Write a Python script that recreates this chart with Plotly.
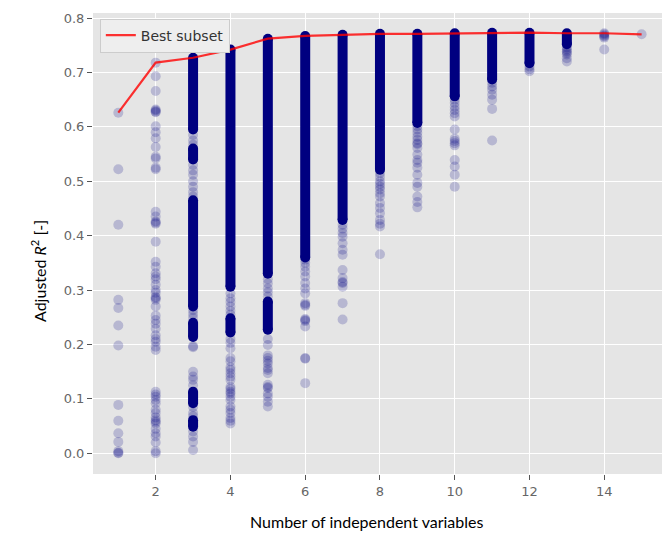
import plotly.graph_objects as go

# ---------------- data ----------------
n_vars = list(range(1, 16))
best_r2 = [0.626, 0.718, 0.727, 0.742, 0.762, 0.767, 0.769, 0.771, 0.771,
           0.772, 0.773, 0.773, 0.772, 0.772, 0.770]

# individually visible subsets (adjusted R2) per number of variables
pts_1 = [0.626, 0.522, 0.420, 0.282, 0.267, 0.235, 0.198, 0.089, 0.060,
         0.037, 0.021, 0.004, 0.001, 0.0]
pts_2 = [0.718, 0.693, 0.666, 0.632, 0.630, 0.628, 0.627, 0.601, 0.590,
         0.579, 0.563, 0.545, 0.542, 0.525, 0.522, 0.444, 0.435, 0.426,
         0.424, 0.422, 0.389, 0.352, 0.343, 0.331, 0.325, 0.320, 0.310,
         0.300, 0.295, 0.287, 0.285, 0.282, 0.270, 0.253, 0.245, 0.238,
         0.229, 0.217, 0.210, 0.205, 0.196, 0.190, 0.113, 0.108, 0.104,
         0.098, 0.092, 0.080, 0.074, 0.066, 0.061, 0.058, 0.055, 0.045,
         0.037, 0.031, 0.020, 0.004, 0.0]
pts_3 = [0.686, 0.585, 0.575, 0.567, 0.530, 0.520, 0.512, 0.500, 0.490,
         0.480, 0.472, 0.263, 0.256, 0.249, 0.197, 0.195, 0.150, 0.141,
         0.135, 0.125, 0.085, 0.074, 0.068, 0.040, 0.031, 0.021, 0.006]
pts_4 = [0.294, 0.285, 0.278, 0.270, 0.262, 0.255, 0.210, 0.203, 0.193,
         0.175, 0.169, 0.158, 0.153, 0.147, 0.141, 0.135, 0.122, 0.118,
         0.113, 0.110, 0.104, 0.098, 0.086, 0.080, 0.074, 0.065, 0.060,
         0.055]
pts_5 = [0.320, 0.312, 0.303, 0.296, 0.288, 0.210, 0.199, 0.180, 0.175,
         0.170, 0.165, 0.157, 0.153, 0.147, 0.126, 0.122, 0.120, 0.110,
         0.104, 0.095, 0.086]
pts_6 = [0.356, 0.350, 0.343, 0.334, 0.325, 0.313, 0.303, 0.294, 0.276,
         0.273, 0.271, 0.247, 0.245, 0.243, 0.233, 0.175, 0.174, 0.129]
pts_7 = [0.420, 0.413, 0.405, 0.398, 0.386, 0.374, 0.365, 0.337, 0.322,
         0.315, 0.313, 0.306, 0.276, 0.246]
pts_8 = [0.515, 0.508, 0.500, 0.495, 0.490, 0.485, 0.478, 0.472, 0.460,
         0.451, 0.441, 0.429, 0.422, 0.417, 0.366]
pts_9 = [0.601, 0.595, 0.589, 0.582, 0.576, 0.570, 0.568, 0.561, 0.549,
         0.539, 0.534, 0.525, 0.512, 0.497, 0.490, 0.472, 0.462, 0.452]
pts_10 = [0.650, 0.644, 0.637, 0.631, 0.625, 0.619, 0.595, 0.578, 0.574,
          0.570, 0.566, 0.539, 0.527, 0.512, 0.490]
pts_11 = [0.681, 0.674, 0.668, 0.659, 0.650, 0.633, 0.575]
pts_12 = [0.711, 0.706, 0.702]
pts_13 = [0.746, 0.742, 0.739, 0.736, 0.733, 0.726, 0.720]
pts_14 = [0.772, 0.770, 0.768, 0.766, 0.764, 0.742]
pts_15 = [0.770]

# ranges where subsets overlap into a solid column: (low, high)
band_3 = [(0.595, 0.727), (0.540, 0.560), (0.270, 0.465), (0.214, 0.240),
          (0.092, 0.113), (0.049, 0.061)]
band_4 = [(0.306, 0.742), (0.222, 0.248)]
band_5 = [(0.330, 0.762), (0.227, 0.279)]
band_6 = [(0.360, 0.767)]
band_7 = [(0.429, 0.769)]
band_8 = [(0.521, 0.771)]
band_9 = [(0.607, 0.771)]
band_10 = [(0.656, 0.772)]
band_11 = [(0.687, 0.773)]
band_12 = [(0.717, 0.773)]
band_13 = [(0.752, 0.772)]

x_ticks = [2, 4, 6, 8, 10, 12, 14]
y_ticks = [0.0, 0.1, 0.2, 0.3, 0.4, 0.5, 0.6, 0.7, 0.8]

# ---------------- build figure ----------------
all_pts = {1: pts_1, 2: pts_2, 3: pts_3, 4: pts_4, 5: pts_5, 6: pts_6,
           7: pts_7, 8: pts_8, 9: pts_9, 10: pts_10, 11: pts_11,
           12: pts_12, 13: pts_13, 14: pts_14, 15: pts_15}
all_bands = {3: band_3, 4: band_4, 5: band_5, 6: band_6, 7: band_7,
             8: band_8, 9: band_9, 10: band_10, 11: band_11, 12: band_12,
             13: band_13}

NAVY = "#000080"

bx, by = [], []
for k, bands in all_bands.items():
    for lo, hi in bands:
        bx += [k, k, None]
        by += [lo, hi, None]

sx, sy = [], []
for k, vals in all_pts.items():
    sx += [k] * len(vals)
    sy += vals

fig = go.Figure()
fig.add_trace(go.Scatter(
    x=bx, y=by, mode="lines+markers", showlegend=False, hoverinfo="skip",
    line=dict(color=NAVY, width=10),
    marker=dict(color=NAVY, size=10, line=dict(width=0)),
))
fig.add_trace(go.Scatter(
    x=sx, y=sy, mode="markers", showlegend=False,
    marker=dict(color=NAVY, size=10, opacity=0.2, line=dict(width=0)),
))
fig.add_trace(go.Scatter(
    x=n_vars, y=best_r2, mode="lines", name="Best subset",
    line=dict(color="rgba(255,0,0,0.8)", width=2.2),
))

tick_font = dict(family="DejaVu Sans", size=13, color="#666666")
fig.update_layout(
    width=662, height=534,
    margin=dict(l=93, r=0, t=13, b=60, pad=0),
    paper_bgcolor="white", plot_bgcolor="#E5E5E5",
    xaxis=dict(range=[0.323, 15.545], tickvals=x_ticks, ticks="outside",
               ticklen=5, tickcolor="#555555", tickwidth=1,
               showgrid=True, gridcolor="white", gridwidth=1.3,
               zeroline=False, showline=False, tickfont=tick_font),
    yaxis=dict(range=[-0.038, 0.8092], tickvals=y_ticks, tickformat=".1f",
               ticks="outside", ticklen=5, tickcolor="#555555", tickwidth=1,
               showgrid=True, gridcolor="white", gridwidth=1.3,
               zeroline=False, showline=False, tickfont=tick_font),
    legend=dict(x=0.012, y=0.988, xanchor="left", yanchor="top",
                bgcolor="#EEEEEE", bordercolor="#CCCCCC", borderwidth=1,
                font=dict(family="DejaVu Sans", size=14, color="#333333"),
                itemwidth=30),
    annotations=[
        dict(text="Number of independent variables", xref="paper",
             yref="paper", x=0.4815, y=-0.104, xanchor="center",
             yanchor="middle", showarrow=False,
             font=dict(family="Lato", size=16, color="black")),
        dict(text="Adjusted <i>R</i><sup>2</sup> [-]", xref="paper",
             yref="paper", x=-0.0967, y=0.4403, xanchor="center",
             yanchor="middle", textangle=-90, showarrow=False,
             font=dict(family="Lato", size=16, color="black")),
    ],
)

fig.write_html(
    "out.html",
    config={"displayModeBar": False},
    post_script="document.body.style.margin='0';"
                "document.body.style.padding='0';"
                "document.body.style.overflow='hidden';",
)
